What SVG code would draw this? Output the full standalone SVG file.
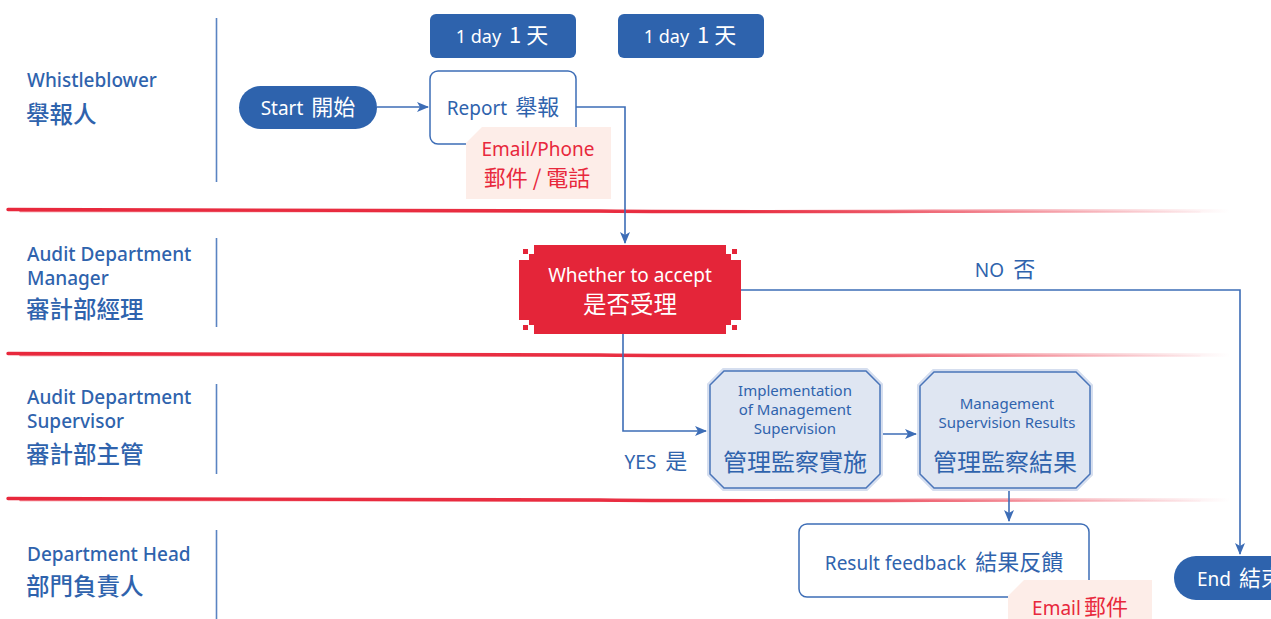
<svg xmlns="http://www.w3.org/2000/svg" width="1271" height="619" viewBox="0 0 1271 619">
  <defs>
    <style>
      .lane { font-family: "Noto Sans", "Noto Sans CJK TC", sans-serif; font-weight: 500; fill: #2f63ad; font-size: 19px; }
      .lane-cjk { font-family: "Noto Sans CJK TC", "Noto Sans", sans-serif; font-weight: 500; fill: #2f63ad; font-size: 23.5px; }
      .sep { stroke: #5a84c2; stroke-width: 1.6; }
      .pill { fill: #2e63ad; }
      .t { font-family: "Noto Sans", "Noto Sans CJK TC", sans-serif; font-size: 19px; text-anchor: middle; }
      .cjk { font-family: "Noto Sans CJK TC", "Noto Sans", sans-serif; font-size: 22px; }
      .sm { font-size: 15px; }
      .lg { font-size: 24px; }
      .w { fill: #ffffff; }
      .b { fill: #2f63ad; }
      .r { fill: #e8283c; }
      .box { fill: #ffffff; stroke: #3d6db6; stroke-width: 1.5; }
      .note { fill: #fdede8; }
      .sup-halo { fill: none; stroke: #d5deef; stroke-width: 6; }
      .sup { fill: #dfe6f2; stroke: #4a75b9; stroke-width: 1.5; }
      .edge { fill: none; stroke: #3d6db6; stroke-width: 1.6; }
      .brush { fill: none; stroke: url(#brushFade); stroke-linecap: round; }
    </style>
    <linearGradient id="brushFade" gradientUnits="userSpaceOnUse" x1="0" y1="0" x2="1230" y2="0">
      <stop offset="0" stop-color="#e8283c" stop-opacity="1"/>
      <stop offset="0.6" stop-color="#e8283c" stop-opacity="0.95"/>
      <stop offset="1" stop-color="#e8283c" stop-opacity="0"/>
    </linearGradient>
    <marker id="arrow" viewBox="0 0 12 10" refX="11" refY="5" markerWidth="12" markerHeight="10" markerUnits="userSpaceOnUse" orient="auto">
      <path d="M0,0 L12,5 L0,10 L3,5 Z" fill="#3d6db6"/>
    </marker>
  </defs>

  <rect width="1271" height="619" fill="#ffffff"/>

  <!-- swimlane dividers (brush strokes) -->
  <g id="lane-dividers">
    <path class="brush" stroke-width="3.4" d="M8,209.5 C200,210.5 400,209 600,211 S1000,210 1230,211"/>
    <path class="brush" stroke-width="1.4" stroke-opacity="0.6" d="M20,211.5 C250,212 450,210.5 700,212 S1050,211.5 1200,212"/>
    <path class="brush" stroke-width="3.4" d="M8,353.5 C200,354.5 400,353 600,355 S1000,354 1230,355"/>
    <path class="brush" stroke-width="1.4" stroke-opacity="0.6" d="M20,355.5 C250,356 450,354.5 700,356 S1050,355.5 1200,356"/>
    <path class="brush" stroke-width="3.4" d="M8,498.5 C200,499.5 400,498 600,500 S1000,499 1230,500"/>
    <path class="brush" stroke-width="1.4" stroke-opacity="0.6" d="M20,500.5 C250,501 450,499.5 700,501 S1050,500.5 1200,501"/>
  </g>

  <!-- lane headers -->
  <g id="lane-whistleblower">
    <text class="lane" x="27" y="87">Whistleblower</text>
    <text class="lane-cjk" x="26" y="123">舉報人</text>
    <line class="sep" x1="216.5" y1="18" x2="216.5" y2="182"/>
  </g>
  <g id="lane-audit-manager">
    <text class="lane" x="27" y="261">Audit Department</text>
    <text class="lane" x="27" y="285">Manager</text>
    <text class="lane-cjk" x="26" y="318">審計部經理</text>
    <line class="sep" x1="216.5" y1="238" x2="216.5" y2="327"/>
  </g>
  <g id="lane-audit-supervisor">
    <text class="lane" x="27" y="404">Audit Department</text>
    <text class="lane" x="27" y="428">Supervisor</text>
    <text class="lane-cjk" x="26" y="463">審計部主管</text>
    <line class="sep" x1="216.5" y1="384" x2="216.5" y2="474"/>
  </g>
  <g id="lane-department-head">
    <text class="lane" x="27" y="561">Department Head</text>
    <text class="lane-cjk" x="26" y="595">部門負責人</text>
    <line class="sep" x1="216.5" y1="530" x2="216.5" y2="619"/>
  </g>

  <!-- time markers -->
  <g id="day-1">
    <rect class="pill" x="430" y="14" width="146" height="44" rx="6"/>
    <text class="t w" x="502" y="43" style="font-size:18px">1 day<tspan class="cjk" dx="8">1 天</tspan></text>
  </g>
  <g id="day-2">
    <rect class="pill" x="618" y="14" width="146" height="44" rx="6"/>
    <text class="t w" x="690" y="43" style="font-size:18px">1 day<tspan class="cjk" dx="8">1 天</tspan></text>
  </g>

  <!-- connectors -->
  <g id="connectors">
    <path class="edge" d="M377,107 H428" marker-end="url(#arrow)"/>
    <path class="edge" d="M576,107 H625 V243" marker-end="url(#arrow)"/>
    <path class="edge" d="M741,290 H1240 V554" marker-end="url(#arrow)"/>
    <path class="edge" d="M623,334 V431 H706" marker-end="url(#arrow)"/>
    <path class="edge" d="M881,434 H916" marker-end="url(#arrow)"/>
    <path class="edge" d="M1009,489 V521" marker-end="url(#arrow)"/>
    <text class="t b" x="1005" y="277">NO<tspan class="cjk" dx="9">否</tspan></text>
    <text class="t b" x="656" y="469">YES<tspan class="cjk" dx="9">是</tspan></text>
  </g>

  <g id="start">
    <rect class="pill" x="239" y="86" width="138" height="43" rx="21.5"/>
    <text class="t w" x="308" y="115">Start<tspan class="cjk" dx="8">開始</tspan></text>
  </g>

  <g id="report">
    <rect class="box" x="430" y="71" width="146" height="73" rx="8"/>
    <text class="t b" x="503" y="115">Report<tspan class="cjk" dx="8">舉報</tspan></text>
  </g>
  <g id="report-channel">
    <path class="note" d="M482,127 H611 V199 H466 V143 Z"/>
    <text class="t r" x="538" y="156">Email/Phone</text>
    <text class="t r cjk" x="537" y="186" style="text-anchor:middle">郵件 / 電話</text>
  </g>

  <g id="decision">
    <path fill="#e42539" d="M534,245 H726 V254 H731 V260 H741 V320 H731 V325 H726 V334 H534 V325 H529 V320 H519 V260 H529 V254 H534 Z"/>
    <rect fill="#e42539" x="523" y="249" width="5" height="5"/>
    <rect fill="#e42539" x="732" y="249" width="5" height="5"/>
    <rect fill="#e42539" x="523" y="325" width="5" height="5"/>
    <rect fill="#e42539" x="732" y="325" width="5" height="5"/>
    <text class="t w" x="630" y="282">Whether to accept</text>
    <text class="t w cjk" x="630" y="313" style="font-size:23.5px">是否受理</text>
  </g>

  <g id="implementation">
    <path class="sup-halo" d="M724,371 H866 L880,385 V474 L866,488 H724 L710,474 V385 Z"/>
    <path class="sup" d="M724,371 H866 L880,385 V474 L866,488 H724 L710,474 V385 Z"/>
    <text class="t b sm" x="795" y="396">Implementation</text>
    <text class="t b sm" x="795" y="415">of Management</text>
    <text class="t b sm" x="795" y="434">Supervision</text>
    <text class="t b cjk lg" x="795" y="471">管理監察實施</text>
  </g>

  <g id="results">
    <path class="sup-halo" d="M934,372 H1076 L1090,386 V474 L1076,488 H934 L920,474 V386 Z"/>
    <path class="sup" d="M934,372 H1076 L1090,386 V474 L1076,488 H934 L920,474 V386 Z"/>
    <text class="t b sm" x="1007" y="409">Management</text>
    <text class="t b sm" x="1007" y="428">Supervision Results</text>
    <text class="t b cjk lg" x="1005" y="471">管理監察結果</text>
  </g>

  <g id="feedback">
    <rect class="box" x="799" y="524" width="290" height="73" rx="8"/>
    <text class="t b" x="944" y="570">Result feedback<tspan class="cjk" dx="9">結果反饋</tspan></text>
  </g>
  <g id="feedback-channel">
    <path class="note" d="M1024,580 H1152 V619 H1008 V596 Z"/>
    <text class="t r" x="1080" y="615">Email<tspan class="cjk" dx="3">郵件</tspan></text>
  </g>

  <g id="end">
    <rect class="pill" x="1174" y="556" width="130" height="44" rx="22"/>
    <text class="t w" x="1197" y="586" style="text-anchor:start">End<tspan class="cjk" dx="8">結束</tspan></text>
  </g>
</svg>
